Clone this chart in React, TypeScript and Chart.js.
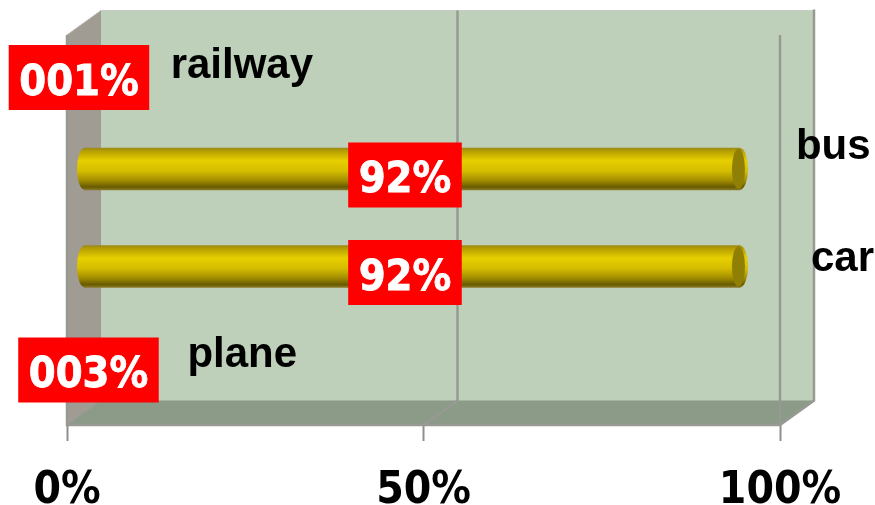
import React, { useEffect, useRef } from "react";
import { Chart, registerables } from "chart.js";

Chart.register(...registerables);

const categories = ["railway", "bus", "car", "plane"];
const shareValues = [1, 92, 92, 3];
const valueLabels = ["001%", "92%", "92%", "003%"];
const axisTicks = [0, 50, 100];

// Hand placement of the labels relative to the value pixel / category pixel.
const nameNudgeX = [96.5, 73, 88, 99];
const nameNudgeY = [-5.75, -22, -8, -9];
const boxNudgeX = [8.4, 10, 10, 10.8];

const DEPTH_X = 34;
const DEPTH_Y = 24.5;
const BAR_H = 42;
const CAP_RX = 8;
const TICK_FONT = "'DejaVu Sans Condensed', 'DejaVu Sans'";
const GRID = "#979993";

function barGradient(ctx: CanvasRenderingContext2D, mid: number) {
  const top = mid - BAR_H / 2;
  const g = ctx.createLinearGradient(0, top, 0, top + BAR_H);
  g.addColorStop(0, "#9c8a14");
  g.addColorStop(0.08, "#b8a000");
  g.addColorStop(0.3, "#e6cf00");
  g.addColorStop(0.55, "#d4bc00");
  g.addColorStop(0.78, "#a08c00");
  g.addColorStop(0.93, "#685a00");
  g.addColorStop(1, "#8a7a28");
  return g;
}

const box3d = {
  id: "box3d",
  beforeDatasetsDraw(chart: any) {
    const { ctx, chartArea: a, scales } = chart;
    const { left, right, top, bottom } = a;
    const poly = (pts: number[][], fill: string) => {
      ctx.beginPath();
      pts.forEach((p, i) => (i ? ctx.lineTo(p[0], p[1]) : ctx.moveTo(p[0], p[1])));
      ctx.closePath();
      ctx.fillStyle = fill;
      ctx.fill();
    };
    const line = (pts: number[][], color = GRID, w = 2.5) => {
      ctx.beginPath();
      pts.forEach((p, i) => (i ? ctx.lineTo(p[0], p[1]) : ctx.moveTo(p[0], p[1])));
      ctx.strokeStyle = color;
      ctx.lineWidth = w;
      ctx.stroke();
    };
    const bx = left + DEPTH_X, bxr = right + DEPTH_X;
    const by = top - DEPTH_Y, byb = bottom - DEPTH_Y;
    ctx.save();
    poly([[bx, by], [bxr, by], [bxr, byb], [bx, byb]], "#bed0ba");
    poly([[left, top], [bx, by], [bx, byb], [left, bottom]], "#a09c94");
    poly([[left, bottom], [bx, byb], [bxr, byb], [right, bottom]], "#8c9a88");
    line([[bx, by], [bxr, by]], "#c9cdc7", 1);
    line([[left, top], [bx, by]], "#b5b3ad", 1);
    line([[bx, byb], [bxr, byb]], "#a5b3a1", 1);
    line([[bxr, by - 1], [bxr, byb], [right, bottom]]);
    line([[left, top], [left, bottom], [right, bottom]]);
    line([[left, bottom], [bx, byb]], GRID, 1.5);
    const mid = scales.x.getPixelForValue(50);
    line([[mid + DEPTH_X, by], [mid + DEPTH_X, byb], [mid, bottom]]);
    line([[right, top], [right, bottom]]);
    ctx.restore();
  },
  beforeDatasetDraw(chart: any) {
    const { ctx } = chart;
    ctx.save();
    ctx.translate(DEPTH_X / 2, -DEPTH_Y / 2);
    chart.getDatasetMeta(0).data.forEach((el: any) => {
      ctx.beginPath();
      ctx.ellipse(el.base, el.y, CAP_RX - 0.5, BAR_H / 2, 0, 0, Math.PI * 2);
      ctx.fillStyle = barGradient(ctx, el.y);
      ctx.fill();
    });
  },
  afterDatasetDraw(chart: any) {
    const { ctx } = chart;
    chart.getDatasetMeta(0).data.forEach((el: any) => {
      ctx.beginPath();
      ctx.ellipse(el.x, el.y, CAP_RX, BAR_H / 2, 0, 0, Math.PI * 2);
      ctx.fillStyle = barGradient(ctx, el.y);
      ctx.fill();
      ctx.beginPath();
      ctx.ellipse(el.x - 1.5, el.y, CAP_RX - 1.5, BAR_H / 2 - 1, 0, 0, Math.PI * 2);
      ctx.fillStyle = "#8f7f04";
      ctx.fill();
    });
    ctx.restore();
  },
  afterDraw(chart: any) {
    const { ctx, scales } = chart;
    ctx.save();
    chart.getDatasetMeta(0).data.forEach((el: any, i: number) => {
      const yFront = scales.y.getPixelForValue(i);
      const valuePx = scales.x.getPixelForValue(shareValues[i]);
      const midPx = (valuePx + scales.x.getPixelForValue(0)) / 2;
      // value label box
      ctx.font = `bold 43px ${TICK_FONT}`;
      const w = ctx.measureText(valueLabels[i]).width + 21;
      const cx = midPx + boxNudgeX[i];
      const cy = yFront - 6.25;
      ctx.fillStyle = "#ff0000";
      ctx.fillRect(cx - w / 2, cy - 32.5, w, 65);
      ctx.fillStyle = "#ffffff";
      ctx.strokeStyle = "#ffffff";
      ctx.lineWidth = 0.8;
      ctx.textAlign = "center";
      ctx.textBaseline = "alphabetic";
      ctx.fillText(valueLabels[i], cx, cy + 17);
      ctx.strokeText(valueLabels[i], cx, cy + 17);
      // category name
      ctx.font = "bold 42px 'Liberation Sans'";
      ctx.fillStyle = "#000000";
      ctx.textAlign = "left";
      ctx.fillText(categories[i], valuePx + nameNudgeX[i], yFront + nameNudgeY[i]);
    });
    ctx.restore();
  },
};

export default function App() {
  const ref = useRef<HTMLCanvasElement>(null);
  useEffect(() => {
    const chart = new Chart(ref.current!, {
      type: "bar",
      data: {
        labels: categories,
        datasets: [
          {
            data: shareValues,
            barThickness: BAR_H,
            clip: false,
            borderWidth: 0,
            backgroundColor: (c: any) => {
              const s = c.chart.scales.y;
              const mid = s && c.dataIndex !== undefined ? s.getPixelForValue(c.dataIndex) : NaN;
              if (!Number.isFinite(mid)) return "#d4bc00";
              return barGradient(c.chart.ctx, mid);
            },
          },
        ],
      },
      options: {
        indexAxis: "y",
        animation: false,
        responsive: false,
        events: [],
        layout: { padding: { left: 67, right: 95, top: 35, bottom: 0 } },
        plugins: { legend: { display: false }, title: { display: false }, tooltip: { enabled: false } },
        scales: {
          x: {
            type: "linear",
            min: 0,
            max: 100,
            afterBuildTicks: (axis: any) => {
              axis.ticks = axisTicks.map((value) => ({ value }));
            },
            afterFit: (axis: any) => {
              axis.height = 80;
            },
            border: { display: false },
            grid: { drawOnChartArea: false, drawTicks: true, tickLength: 16, tickColor: "#8f908c", tickWidth: 2 },
            ticks: {
              padding: 24,
              maxRotation: 0,
              autoSkip: false,
              color: "#000000",
              font: { family: TICK_FONT, weight: "bold", size: 44 },
              callback: (v: any) => `${v}%`,
            },
          },
          y: {
            type: "category",
            afterFit: (axis: any) => {
              axis.width = 0;
            },
            border: { display: false },
            grid: { display: false },
            ticks: { display: false },
          },
        },
      },
      plugins: [box3d],
    } as any);
    return () => chart.destroy();
  }, []);
  return (
    <div style={{ position: "fixed", left: 0, top: 0, width: 875, height: 505, background: "#ffffff" }}>
      <canvas ref={ref} width={875} height={505} style={{ display: "block", filter: "blur(0.4px)" }} />
    </div>
  );
}
